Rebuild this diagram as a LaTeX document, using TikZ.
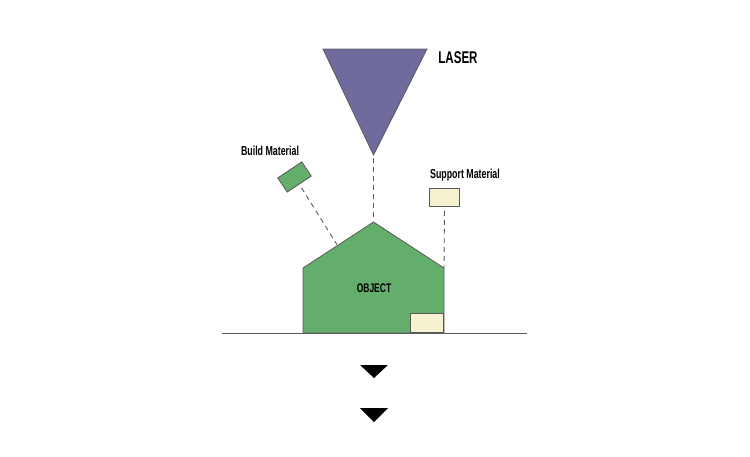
\documentclass[tikz,border=0pt]{standalone}
\usepackage{fontspec}
\setmainfont{Liberation Sans}
\newfontfamily\condfont[FakeStretch=0.68]{Liberation Sans}
\definecolor{objgreen}{HTML}{64AE6C}
\definecolor{creamfill}{HTML}{F6F1CF}
\definecolor{laserpurple}{HTML}{6F6B9C}
\definecolor{edgegray}{HTML}{5A5A5A}
\begin{document}
\begin{tikzpicture}[x=1pt,y=-1pt,
  edgeline/.style={draw=edgegray,line width=0.8pt},
  dashline/.style={draw=edgegray,line width=0.9pt,dash pattern=on 5pt off 4pt},
  lbl/.style={inner sep=0pt,font=\condfont\bfseries\fontsize{13}{13}\selectfont},
  matbox/.style={edgeline,fill=creamfill,inner sep=0pt,minimum width=30pt,minimum height=17pt},
  downtip/.style={fill=black}]
\useasboundingbox (0,0) rectangle (750,456);
% laser
\coordinate (lasA) at (323,49);
\coordinate (lasB) at (427,49);
\coordinate (lasTip) at (373.5,155);
\filldraw[edgeline,fill=laserpurple] (lasA) -- (lasB) -- (lasTip) -- cycle;
\node[lbl,font=\condfont\bfseries\fontsize{17}{17}\selectfont] (laserlbl) at (458,58) {LASER};
% object
\coordinate (oBL) at (303,333);
\coordinate (oTL) at (303,268);
\coordinate (oApex) at (373.5,222);
\coordinate (oTR) at (444,268);
\coordinate (oBR) at (444,333);
\filldraw[edgeline,fill=objgreen] (oBL) -- (oTL) -- (oApex) -- (oTR) -- (oBR) -- cycle;
\node[matbox,anchor=south east,minimum width=33pt,minimum height=19pt] (inner) at (oBR) {};
\node[lbl,font=\condfont\bfseries\fontsize{12.5}{12.5}\selectfont] (objlbl) at (374,288) {OBJECT};
% ground
\coordinate (gL) at (222,333);
\coordinate (gR) at (527,333);
\draw[edgeline] (gL) -- (gR);
% build material
\node[matbox,fill=objgreen,minimum width=29pt,minimum height=17pt,rotate=33.7] (build) at (294.5,177) {};
\node[lbl] (buildlbl) at (270,151) {Build Material};
\coordinate (roofpt) at (337.5,245.5);
\draw[dashline,shorten <=4pt,shorten >=1pt] (build.south) -- (roofpt);
% support material
\node[matbox,minimum width=30pt,minimum height=18pt] (support) at (444.5,197.5) {};
\node[lbl] (supportlbl) at (465,175) {Support Material};
\draw[dashline,shorten <=4pt] (support.south) -- (oTR);
% laser beam
\draw[dashline,shorten <=3pt,shorten >=4pt] (lasTip) -- (oApex);
% down arrows
\fill[downtip] (360,365) -- (388,365) -- (374,378) -- cycle;
\fill[downtip] (360,408) -- (388,408) -- (374,422) -- cycle;
\end{tikzpicture}
\end{document}
